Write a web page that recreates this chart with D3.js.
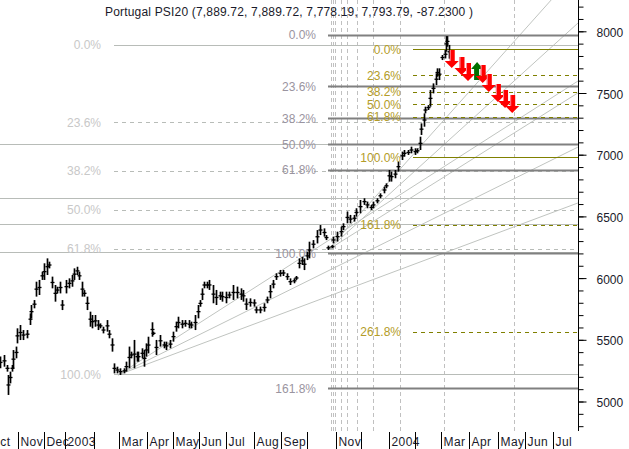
<!DOCTYPE html>
<html>
<head>
<meta charset="utf-8">
<script src="https://cdnjs.cloudflare.com/ajax/libs/d3/7.8.5/d3.min.js"></script>
<style>
body { margin: 0; background: #fff; }
svg { display: block; font-family: "Liberation Sans", Arial, sans-serif; font-size: 12px; }
</style>
</head>
<body>
<svg id="chart" width="629" height="449"></svg>
<script>
var titleText = "Portugal PSI20 (7,889.72, 7,889.72, 7,778.19, 7,793.79, -87.2300 )";

// x is counted in trading sessions from the left edge of the window
var barSession = [0,3,5,6,8,9,10,12,13,15,18,21,23,24,26,28,30,32,34,36,38,40,42,44,46,48,51,53,55,57,59,61,63,65,67,69,71,73,75,77,79,82,84,86,
	88,90,92,95,97,99,101,103,105,106,109,111,112,114,117,118,120,123,126,128,131,133,135,137,140,142,145,147,150,152,154,155,157,159,161,
	164,166,169,171,174,176,179,182,185,187,189,192,195,197,200,203,205,208,210,212,215,218,221,223,226,228,
	230,232,234,236,238,241,244,246,249,251,
	252,255,256,259,262,264,267,269,272,274,277,280,282,285,287,290,292,295,297,299,301,304,306,309,311,314,316,319,321,323,
	324,326,327,329,331,333,335,336,338,340,342,343,344,345];
var barHigh = [5364,5377,5296,5215,5242,5296,5417,5445,5593,5620,5579,5579,5714,5782,5822,5971,5985,6052,6120,6160,6133,6012,5944,5930,5971,5822,5985,5998,6025,6079,6092,6052,5971,5903,5850,5728,5701,5701,5660,5633,5606,5660,5579,5512,
	5309,5282,5269,5269,5323,5445,5404,5499,5404,5404,5431,5417,5471,5525,5642,5566,5499,5539,5485,5485,5499,5566,5647,5687,5660,5660,5660,5647,5701,5782,5822,5917,5971,5971,5985,
	5944,5904,5890,5890,5890,5890,5944,5931,5917,5904,5836,5836,5828,5769,5769,5796,5850,5944,5985,6039,6066,6066,6039,5998,5998,6017,
	6160,6173,6160,6214,6295,6308,6389,6430,6403,6349,
	6263,6268,6336,6376,6417,6444,6539,6512,6512,6566,6633,6647,6620,6593,6620,6647,6687,6741,6768,6876,6863,6876,6943,7025,7038,7038,7065,7052,7052,7146,
	7254,7335,7389,7402,7524,7578,7659,7700,7700,7808,7848,7961,7961,7889.72];
var barLow = [5269,5282,5242,5053,5147,5242,5269,5350,5471,5498,5498,5512,5620,5674,5755,5850,5863,5985,5985,6025,6079,5917,5809,5876,5876,5741,5876,5917,5930,5985,6025,5985,5850,5850,5741,5606,5593,5606,5579,5593,5552,5566,5512,5404,
	5228,5228,5215,5228,5242,5269,5350,5269,5323,5323,5350,5282,5364,5390,5525,5539,5377,5445,5431,5417,5431,5485,5566,5593,5593,5606,5593,5593,5579,5674,5768,5822,5917,5917,5904,
	5796,5782,5823,5809,5796,5836,5823,5836,5823,5809,5742,5769,5769,5715,5715,5728,5796,5836,5917,5985,6012,6017,5985,5944,5958,5985,
	6079,6106,6065,6146,6160,6241,6281,6349,6336,6308,
	6228,6241,6282,6296,6336,6390,6444,6444,6458,6498,6525,6593,6566,6552,6566,6606,6647,6687,6728,6782,6782,6809,6863,6957,6984,6998,7011,6998,7011,7038,
	7160,7227,7335,7362,7389,7497,7564,7632,7605,7767,7780,7835,7875,7778.19];

// month boundaries on the time axis, blank label where the chart prints none
var monthSessions = [-9,14,34,50,72,91.5,113,133,153,174,195,216,236,258.5,278,299,319,339,361,383,404,425];
var monthLabels = ["Oct","Nov","Dec","2003","","Mar","Apr","May","Jun","Jul","Aug","Sep","","Nov","","2004","","Mar","Apr","May","Jun","Jul"];

var priceTicks = [5000,5500,6000,6500,7000,7500,8000];
var minorTicks = [4800,4900,5000,5100,5200,5300,5400,5500,5600,5700,5800,5900,6000,6100,6200,6300,6400,6500,6600,6700,6800,6900,7000,7100,7200,7300,7400,7500,7600,7700,7800,7900,8000,8100,8200];

// three retracement studies
var lightPct = ["0.0%","23.6%","38.2%","50.0%","61.8%","100.0%"];
var lightLevels = [7889,7262,6869,6554,6239,5219];
var lightDashed = [false,true,true,true,true,false];

var greyPct = ["0.0%","23.6%","38.2%","50.0%","61.8%","100.0%","161.8%"];
var greyLevels = [7972,7554,7295,7086,6877,6201,5107];

var olivePct = ["0.0%","23.6%","38.2%","50.0%","61.8%","100.0%","161.8%","261.8%"];
var oliveLevels = [7854,7642,7512,7407,7306,6981,6434,5567];
var oliveDashed = [false,true,true,true,true,false,true,true];

// plain horizontals running across the full width
var plainLevels = [7083,6651,6440,6211];

var zoneSessions = [254.6,256.2,257.7,262.3,267,274.6,287,307.7,341.5,395.4];

// speed lines: two fans, each from one origin to the axis
var fanA = { session: 90.8, price: 5215, endPrices: [7597,7062,6609] };
var fanB = { session: 252.3, price: 6229, endPrices: [8497,8067,7501] };
var fanEndSession = 444.6;

var sellSessions = [347.5,355,360,371.3,376,383,388.5,394];
var sellPrices = [7703,7646,7597,7581,7508,7427,7379,7338];
var buySessions = [367];
var buyPrices = [7751];

var width = 629, height = 449;
var axisX = 578.5, plotBottom = 431;

var x = d3.scaleLinear().domain([0, 450]).range([0, 585]);
var y = d3.scaleLinear().domain([5000, 8000]).range([401.5, 31.3]);

var svg = d3.select("#chart");

function hline(level, x0, x1, color, w, dashed){
	svg.append("line")
		.attr("x1", x0).attr("x2", x1)
		.attr("y1", Math.round(y(level)) + 0.5).attr("y2", Math.round(y(level)) + 0.5)
		.attr("stroke", color).attr("stroke-width", w)
		.attr("stroke-dasharray", dashed ? "4,4" : null);
}

function pctLabel(text, level, right, color){
	svg.append("text")
		.attr("x", right).attr("y", y(level) + 4.5)
		.attr("text-anchor", "end").attr("fill", color)
		.text(text);
}

// full width horizontals
plainLevels.forEach(function(p){ hline(p, 0, axisX, "#b8bcb8", 1, false); });

// fib time zones
svg.selectAll("line.zone").data(zoneSessions).enter().append("line")
	.attr("class", "zone")
	.attr("x1", function(d){ return Math.round(x(d)) + 0.5; })
	.attr("x2", function(d){ return Math.round(x(d)) + 0.5; })
	.attr("y1", 0).attr("y2", plotBottom)
	.attr("stroke", "#c0c0c0").attr("stroke-dasharray", "4,3");

// speed lines
[fanA, fanB].forEach(function(fan){
	fan.endPrices.forEach(function(p){
		svg.append("line")
			.attr("x1", x(fan.session)).attr("y1", y(fan.price))
			.attr("x2", x(fanEndSession)).attr("y2", y(p))
			.attr("stroke", "#c0c4c0").attr("stroke-width", 1);
	});
});

lightLevels.forEach(function(p, i){
	hline(p, 114, axisX, "#b8bcb8", 1, lightDashed[i]);
	pctLabel(lightPct[i], p, 101, "#c8c8c8");
});
greyLevels.forEach(function(p, i){
	hline(p, 328, axisX, "#808080", 2, false);
	pctLabel(greyPct[i], p, 316, "#9a94a0");
});
oliveLevels.forEach(function(p, i){
	hline(p, 413, axisX, "#808000", 1, oliveDashed[i]);
	pctLabel(olivePct[i], p, 401, "#b39c28");
});

// price bars
var bars = svg.append("g").attr("stroke", "#000");
barSession.forEach(function(s, i){
	var bx = Math.round(x(s)) + 0.5;
	var mid = (y(barHigh[i]) + y(barLow[i])) / 2;
	bars.append("line")
		.attr("x1", bx).attr("x2", bx)
		.attr("y1", y(barHigh[i])).attr("y2", y(barLow[i]))
		.attr("stroke-width", 1.7);
	bars.append("line")
		.attr("x1", bx - 2).attr("x2", bx + 2)
		.attr("y1", mid).attr("y2", mid)
		.attr("stroke-width", 1.3);
});

// signals
var sellArrow = "M-2,-18 L3,-18 L3,-7 L7,-7 L0,0 L-7,-7 L-2,-7 Z";
var buyArrow = "M-3,18 L2,18 L2,7 L6,7 L0,0 L-6,7 L-3,7 Z";
buySessions.forEach(function(s, i){
	svg.append("path").attr("d", buyArrow)
		.attr("transform", "translate(" + x(s) + "," + y(buyPrices[i]) + ")")
		.attr("fill", "#007000");
});
sellSessions.forEach(function(s, i){
	var g = svg.append("g").attr("transform", "translate(" + x(s) + "," + y(sellPrices[i]) + ")");
	g.append("path").attr("d", sellArrow).attr("fill", "#ff0000");
	g.append("line").attr("x1", -1.5).attr("x2", -1.5).attr("y1", -18).attr("y2", -7).attr("stroke", "#ff8a9a");
});

// price axis
var minorAxis = d3.axisRight(y).tickValues(minorTicks).tickSize(5).tickFormat("");
var majorAxis = d3.axisRight(y).tickValues(priceTicks).tickSize(8).tickPadding(10).tickFormat(d3.format("d"));
var gMinor = svg.append("g").attr("transform", "translate(" + axisX + ",0)").call(minorAxis);
gMinor.select(".domain").remove();
var gMajor = svg.append("g").attr("transform", "translate(" + axisX + ",0)").call(majorAxis);
gMajor.select(".domain").remove();
gMajor.selectAll("text").attr("fill", "#1a1a2a").attr("dy", "0.42em").style("font-size", "12px").style("font-family", "Liberation Sans");
svg.append("line").attr("x1", axisX).attr("x2", axisX).attr("y1", 0).attr("y2", plotBottom).attr("stroke", "#000");

// time axis
monthSessions.forEach(function(s, i){
	var mx = Math.round(x(s)) + 0.5;
	svg.append("line").attr("x1", mx).attr("x2", mx).attr("y1", 432).attr("y2", height).attr("stroke", "#000");
	if(monthLabels[i] != ""){
		svg.append("text").attr("x", mx + 2).attr("y", 446)
			.attr("fill", "#1a1a2a").style("letter-spacing", "0.4px")
			.text(monthLabels[i]);
	}
});

svg.append("text").attr("x", 105).attr("y", 16)
	.attr("fill", "#1a1a2a").style("letter-spacing", "0.18px")
	.text(titleText);
</script>
</body>
</html>
